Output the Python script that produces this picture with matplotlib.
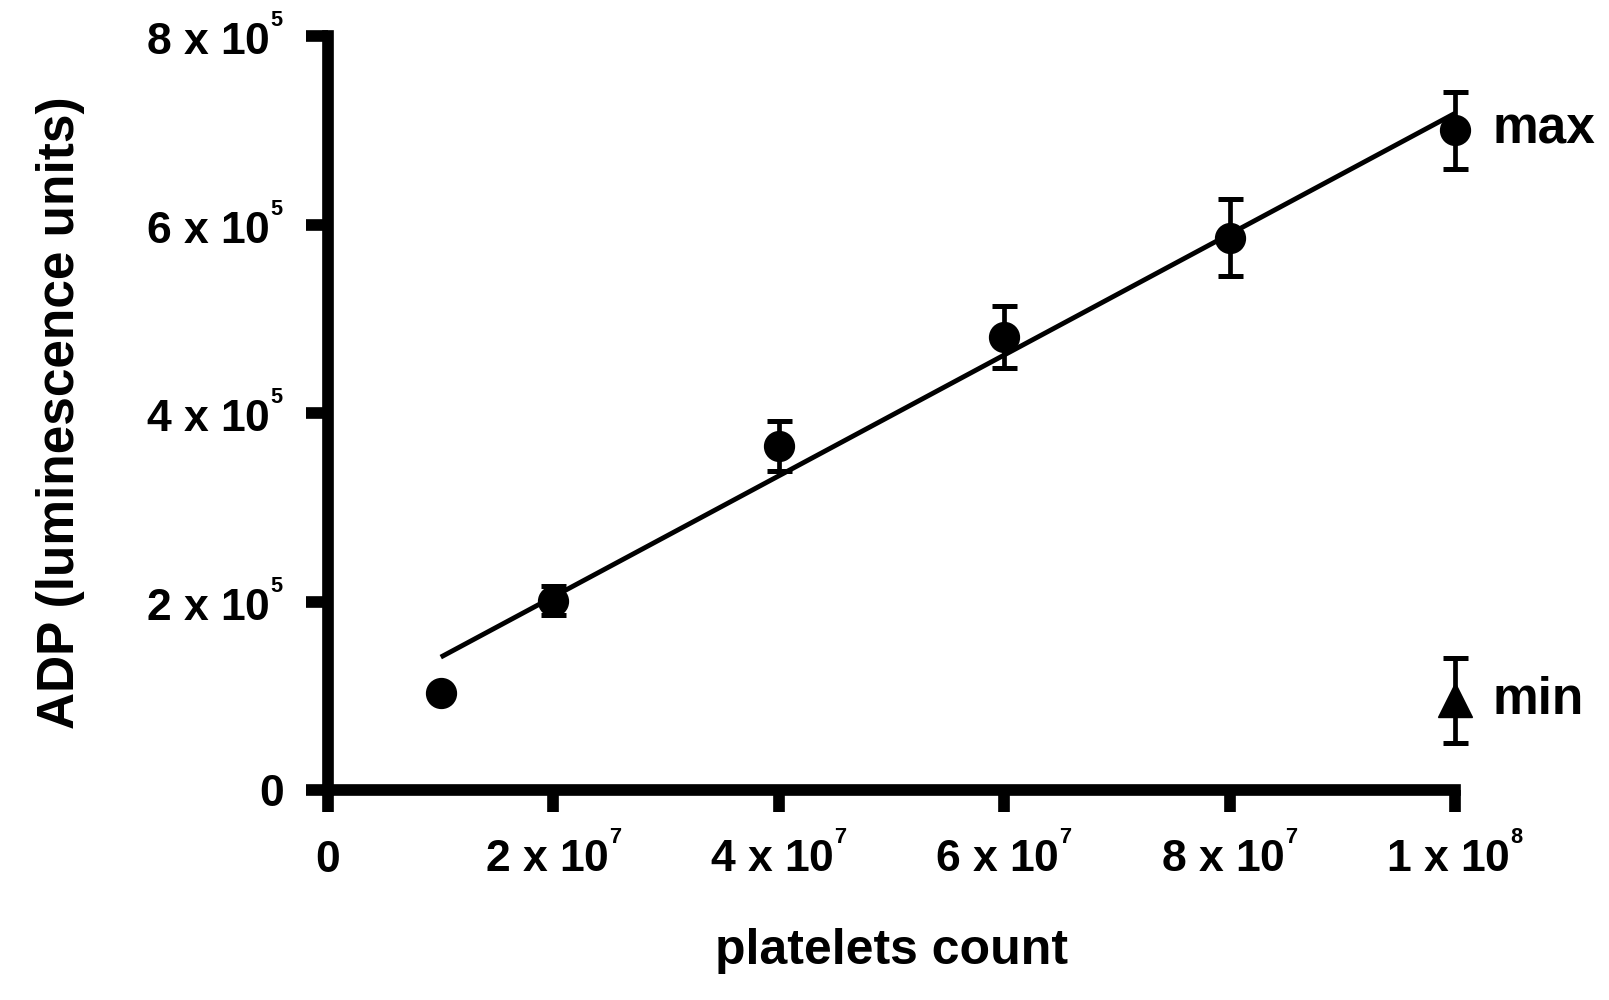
import matplotlib
matplotlib.use('Agg')
import matplotlib.pyplot as plt
import numpy as np

plt.rcParams['font.family'] = ['Liberation Sans', 'DejaVu Sans']
plt.rcParams['font.weight'] = 'bold'
plt.rcParams['mathtext.default'] = 'regular'

# data
platelets = [1e7, 2e7, 4e7, 6e7, 8e7, 1e8]
adp = [1.03e5, 2.01e5, 3.65e5, 4.81e5, 5.86e5, 7.0e5]
adp_err = [0, 0.15e5, 0.27e5, 0.33e5, 0.41e5, 0.41e5]

min_x = [1e8]
min_y = [0.95e5]
min_err = [0.45e5]

# linear fit line (end points)
fit_x = [1e7, 1e8]
fit_y = [1.41e5, 7.18e5]

xticks = [0, 2e7, 4e7, 6e7, 8e7, 1e8]
xticklabels = ['0', '2 x 10$^{^7}$', '4 x 10$^{^7}$', '6 x 10$^{^7}$', '8 x 10$^{^7}$', '1 x 10$^{^8}$']
yticks = [0, 2e5, 4e5, 6e5, 8e5]
yticklabels = ['0', '2 x 10$^{^5}$', '4 x 10$^{^5}$', '6 x 10$^{^5}$', '8 x 10$^{^5}$']

fig = plt.figure(figsize=(16.09, 10), dpi=100)
ax = fig.add_axes([0.2039, 0.21, 0.7004, 0.754])

ax.plot(fit_x, fit_y, color='black', lw=3.5, solid_capstyle='butt', zorder=2)
ax.errorbar(platelets, adp, yerr=adp_err, fmt='o', color='black', ms=21.5,
            elinewidth=3.4, capsize=9, capthick=3.6, clip_on=False, zorder=3)
ax.errorbar(min_x, min_y, yerr=min_err, fmt='^', color='black', ms=25,
            elinewidth=3.4, capsize=9, capthick=3.6, clip_on=False, zorder=3)

ax.annotate('max', xy=(platelets[-1], adp[-1]), xytext=(27, 0),
            textcoords='offset points', ha='left', va='center',
            fontsize=37, fontweight='bold', annotation_clip=False)
ax.annotate('min', xy=(min_x[0], min_y[0]), xytext=(27, 0),
            textcoords='offset points', ha='left', va='center',
            fontsize=37, fontweight='bold', annotation_clip=False)

ax.set_xlim(0, 1e8)
ax.set_ylim(0, 8e5)
ax.set_xticks(xticks)
ax.set_xticklabels(xticklabels)
ax.set_yticks(yticks)
ax.set_yticklabels(yticklabels)

for s in ['top', 'right']:
    ax.spines[s].set_visible(False)
for s in ['left', 'bottom']:
    ax.spines[s].set_linewidth(8.4)
    ax.spines[s].set_capstyle('projecting')

ax.tick_params(axis='both', length=16, width=8.4, labelsize=32, pad=16)
# align x tick labels on their baseline so "0" sits level with the others
ax.tick_params(axis='x', pad=43)
plt.setp(ax.get_xticklabels(), va='baseline')

ax.set_xlabel('platelets count', fontsize=36, fontweight='bold', labelpad=34)
ax.set_ylabel('ADP (luminescence units)', fontsize=37, fontweight='bold', labelpad=44)

fig.savefig('out.png', dpi=100)
